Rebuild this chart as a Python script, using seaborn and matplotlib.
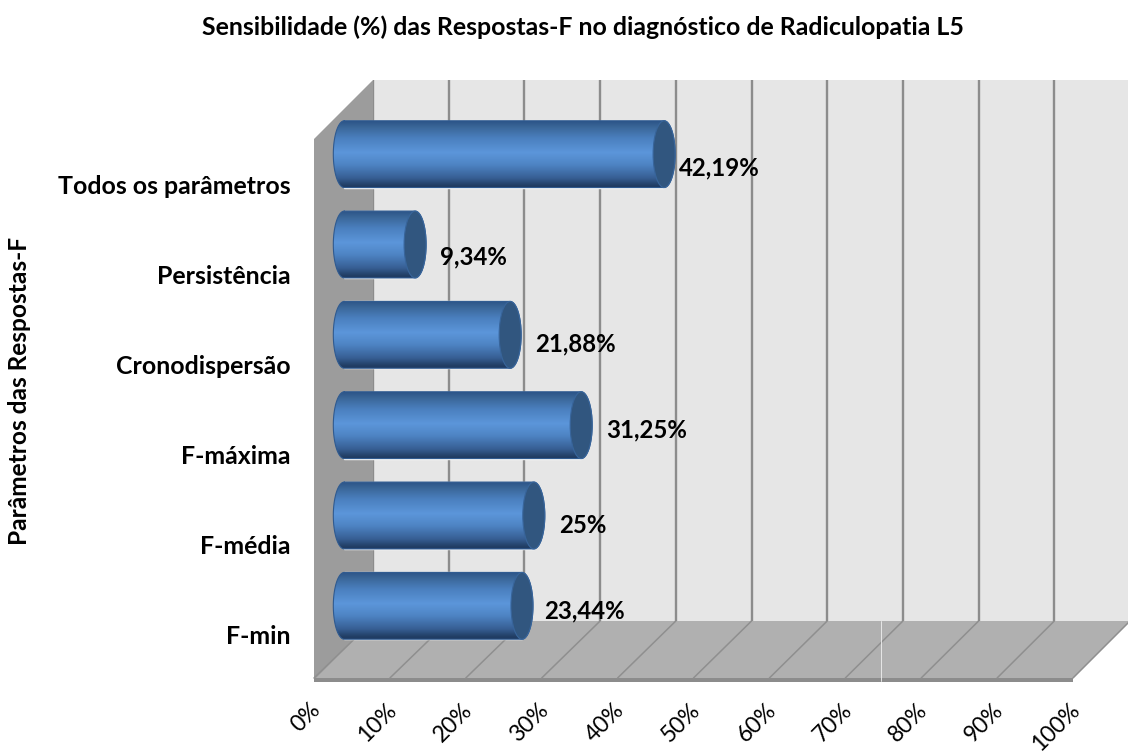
import matplotlib
matplotlib.use('Agg')
import matplotlib.pyplot as plt
import numpy as np
import pandas as pd
import seaborn as sns
from matplotlib.colors import LinearSegmentedColormap
from matplotlib.patches import Ellipse, Polygon
from matplotlib.path import Path
from matplotlib.transforms import ScaledTranslation

# top to bottom, as in the chart
categories = ['Todos os parâmetros', 'Persistência', 'Cronodispersão',
              'F-máxima', 'F-média', 'F-min']
sensibilidade = [42.19, 9.34, 21.88, 31.25, 25, 23.44]
value_labels = ['42,19%', '9,34%', '21,88%', '31,25%', '25%', '23,44%']
x_ticks = [0, 10, 20, 30, 40, 50, 60, 70, 80, 90, 100]
x_tick_labels = ['0%', '10%', '20%', '30%', '40%', '50%', '60%', '70%', '80%', '90%', '100%']

W, H = 1128, 756
FONT = 'Lato'

sns.set_theme(style='white')
plt.rcParams['font.family'] = [FONT, 'DejaVu Sans']

fig = plt.figure(figsize=(W / 100, H / 100), dpi=100, facecolor='white')


def px_axes(left, top, width, height, zorder):
    ax = fig.add_axes([left / W, 1 - (top + height) / H, width / W, height / H], zorder=zorder)
    return ax


# back wall
ax_back = px_axes(373, 80, 757, 541, 0)
ax_back.set_facecolor('#e6e6e6')
ax_back.set_xlim(0, 100)
ax_back.set_xticks(x_ticks)
ax_back.set_yticks([])
ax_back.tick_params(length=0, labelbottom=False)
ax_back.grid(axis='x', color='#8c8c8c', lw=1.7)
sns.despine(ax=ax_back, left=True, bottom=True)

# side wall and floor, in pixels
ax_room = px_axes(0, 0, W, H, 1)
ax_room.set_xlim(0, W)
ax_room.set_ylim(H, 0)
ax_room.axis('off')
ax_room.add_patch(Polygon([(314, 139), (373, 80), (373, 621), (314, 681)], color='#9c9c9c', lw=0))
ax_room.add_patch(Polygon([(316, 678), (373, 621), (1128, 621), (1128, 623), (1073, 678)],
                          color='#b0b0b0', lw=0))
ax_room.add_patch(Polygon([(314, 678), (1073, 678), (1073, 682), (314, 682)], color='#8c8c8c', lw=0))
for t in x_ticks:
    ax_room.plot([314 + 7.59 * t, 373 + 7.57 * t], [678, 621], color='#8f8f8f', lw=1.1)
ax_room.plot([881, 881], [621, 681], color='#f0f0f0', lw=0.6)

# front plane, carries the axis text
ax_front = px_axes(314, 139, 759, 541, 2)
ax_front.patch.set_visible(False)
ax_front.set_xlim(0, 100)
ax_front.set_ylim(5.5, -0.5)
ax_front.set_xticks(x_ticks, x_tick_labels, rotation=45, ha='right', va='center',
                    rotation_mode='anchor', fontsize=16.5, color='black')
ax_front.set_yticks(range(len(categories)), categories, fontsize=17.9, fontweight='bold', color='black')
ax_front.tick_params(axis='x', length=0, pad=19)
ax_front.tick_params(axis='y', length=0, pad=17)
ax_front.set_ylabel('Parâmetros das Respostas-F', fontsize=17.6, fontweight='bold', color='black')
ax_front.yaxis.set_label_coords(31 / W, 1 - 391 / H, transform=fig.transFigure)
shift = ScaledTranslation(3 / 100, 0, fig.dpi_scale_trans)
for lab in ax_front.get_xticklabels():
    lab.set_transform(lab.get_transform() + shift)
sns.despine(ax=ax_front, left=True, bottom=True)

# bars sit half way between front and back
PX_PER_PCT = 7.58
X_PAD = 3
ax_bars = px_axes(344.3 - X_PAD * PX_PER_PCT, 109, (100 + X_PAD) * PX_PER_PCT, 542, 3)
df = pd.DataFrame({'parametro': categories, 'sensibilidade': sensibilidade})
sns.barplot(data=df, x='sensibilidade', y='parametro', order=categories, orient='h',
            width=0.74, color='#4a7ebb', saturation=1, ax=ax_bars)

cyl = LinearSegmentedColormap.from_list('cyl', [
    (0.0, '#2c5488'), (0.08, '#396596'), (0.25, '#4a7fbe'), (0.47, '#5c96da'),
    (0.65, '#4e84c4'), (0.85, '#375f94'), (0.96, '#223f66'), (1.0, '#1f3a60')])
grad = np.linspace(0, 1, 256).reshape(-1, 1)
RX = 1.45

for bar in ax_bars.patches:
    y0, h, w = bar.get_y(), bar.get_height(), bar.get_width()
    yc = y0 + h / 2
    th = np.linspace(np.pi / 2, 3 * np.pi / 2, 40)
    left = np.column_stack([RX * np.cos(th), yc - h / 2 * np.sin(th)])
    right = np.column_stack([w - RX * np.cos(th), yc + h / 2 * np.sin(th)])
    outline = np.vstack([left, right, left[:1]])
    im = ax_bars.imshow(grad, extent=[-RX, w + RX, y0 + h, y0], aspect='auto', cmap=cyl,
                        vmin=0, vmax=1, zorder=4)
    im.set_clip_path(Path(outline), transform=ax_bars.transData)
    ax_bars.plot(outline[:, 0], outline[:, 1], color='#2f5a90', lw=0.8, zorder=5)
    ax_bars.add_patch(Ellipse((w, yc), 2 * RX, h, facecolor='#31567f', edgecolor='#38659b',
                              lw=0.8, zorder=6))

# hand placed labels in the original, offsets in pixels
label_dx = [15, 25, 25, 25, 25, 22]
label_dy = [14, 12, 9, 5, 10, 5]
for i, (v, txt) in enumerate(zip(sensibilidade, value_labels)):
    ax_bars.annotate(txt, xy=(v, i), xytext=(label_dx[i] * 0.72, -label_dy[i] * 0.72),
                     textcoords='offset points', ha='left', va='center',
                     fontsize=17.3, fontweight='bold', color='black', zorder=7)

ax_bars.set_xlim(-X_PAD, 100)
ax_bars.set_ylim(5.5, -0.5)
ax_bars.axis('off')

fig.text(583 / W, 1 - 27 / H, 'Sensibilidade (%) das Respostas-F no diagnóstico de Radiculopatia L5',
         ha='center', va='center', fontsize=17.9, fontweight='bold', color='black')

fig.savefig('out.png', dpi=100)
